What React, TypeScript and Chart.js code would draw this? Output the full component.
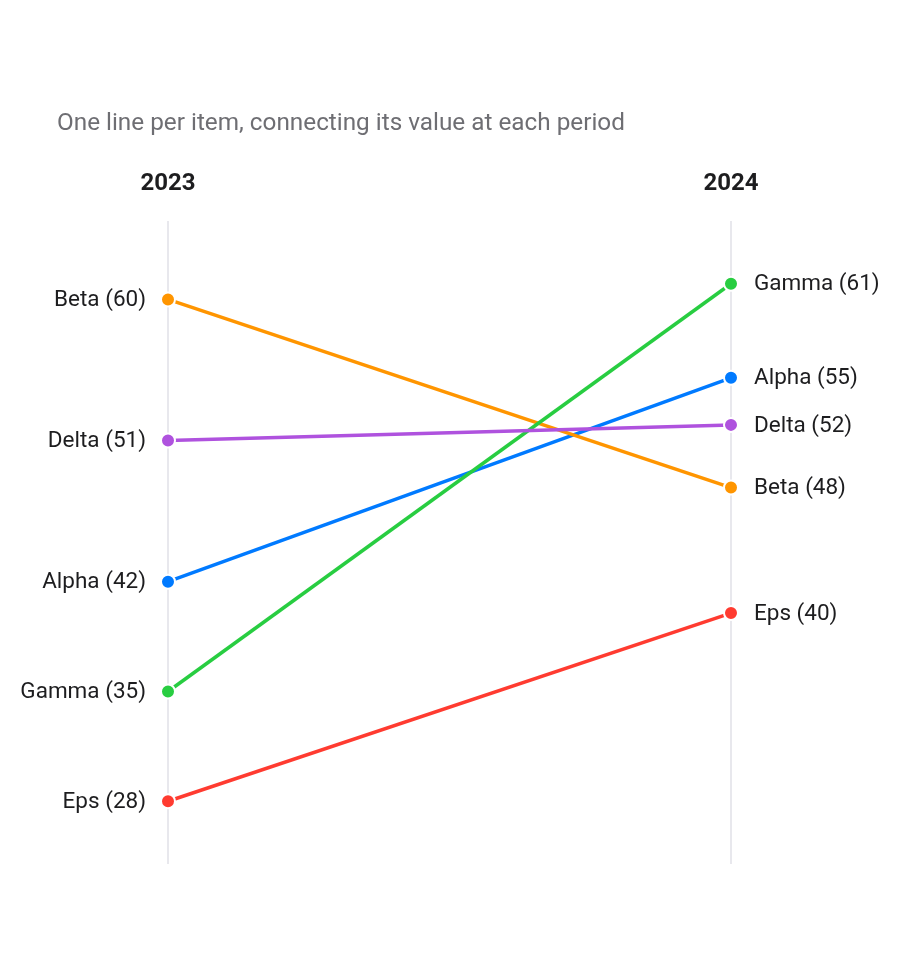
import React, { useEffect, useRef } from "react";
import { Chart, registerables } from "chart.js";

Chart.register(...registerables);

const periods = ["2023", "2024"];
const items = ["Alpha", "Beta", "Gamma", "Delta", "Eps"];
const alphaValues = [42, 55];
const betaValues = [60, 48];
const gammaValues = [35, 61];
const deltaValues = [51, 52];
const epsValues = [28, 40];
const itemColors = ["#007aff", "#ff9500", "#28cd41", "#af52de", "#ff3b30"];
const subtitle = "One line per item, connecting its value at each period";
const yMin = 24;
const yMax = 65;

const FONT = "Roboto, 'Noto Sans', sans-serif";

export default function App() {
  const ref = useRef<HTMLCanvasElement | null>(null);

  useEffect(() => {
    document.body.style.margin = "0";
    const canvas = ref.current;
    if (!canvas) return;
    const values = [alphaValues, betaValues, gammaValues, deltaValues, epsValues];

    const labelPlugin = {
      id: "slopeLabels",
      afterDatasetsDraw(chart: any) {
        const ctx = chart.ctx;
        const xs = chart.scales.x;
        const ys = chart.scales.y;
        ctx.save();
        // subtitle
        ctx.font = `24.3px ${FONT}`;
        ctx.fillStyle = "#6e6e73";
        ctx.textAlign = "left";
        ctx.textBaseline = "middle";
        ctx.fillText(subtitle, 57, 124);
        // headers
        ctx.font = `bold 24px ${FONT}`;
        ctx.fillStyle = "#1d1d1f";
        ctx.textAlign = "center";
        periods.forEach((p, i) => {
          ctx.fillText(p, xs.getPixelForValue(i), 184);
        });
        // labels
        ctx.font = `22.5px ${FONT}`;
        ctx.fillStyle = "#1d1d1f";
        items.forEach((name, k) => {
          const v = values[k];
          const x0 = xs.getPixelForValue(0);
          const x1 = xs.getPixelForValue(1);
          ctx.textAlign = "right";
          ctx.fillText(`${name} (${v[0]})`, x0 - 22, ys.getPixelForValue(v[0]) + 1);
          ctx.textAlign = "left";
          ctx.fillText(`${name} (${v[1]})`, x1 + 23, ys.getPixelForValue(v[1]) + 1);
        });
        ctx.restore();
      },
    };

    const chart = new Chart(canvas, {
      type: "line",
      data: {
        labels: periods,
        datasets: items.map((name, k) => ({
          label: name,
          data: values[k],
          borderColor: itemColors[k],
          backgroundColor: itemColors[k],
          pointBackgroundColor: itemColors[k],
          pointBorderColor: "#ffffff",
          pointBorderWidth: 2,
          pointRadius: 7,
          borderWidth: 3.5,
          fill: false,
          tension: 0,
          clip: false,
          order: items.length - k,
        })),
      },
      options: {
        responsive: false,
        animation: false,
        devicePixelRatio: 1,
        layout: { padding: { left: 168, right: 169, top: 221, bottom: 111 } },
        plugins: {
          legend: { display: false },
          tooltip: { enabled: false },
          title: { display: false },
        },
        scales: {
          x: {
            type: "category",
            offset: false,
            display: true,
            ticks: { display: false },
            grid: { color: "#e8e8ed", lineWidth: 2, drawTicks: false },
            border: { display: false },
          },
          y: {
            min: yMin,
            max: yMax,
            display: false,
          },
        },
      },
      plugins: [labelPlugin],
    });
    return () => chart.destroy();
  }, []);

  return (
    <div style={{ width: 900, height: 975, background: "#ffffff" }}>
      <canvas ref={ref} width={900} height={975} />
    </div>
  );
}
